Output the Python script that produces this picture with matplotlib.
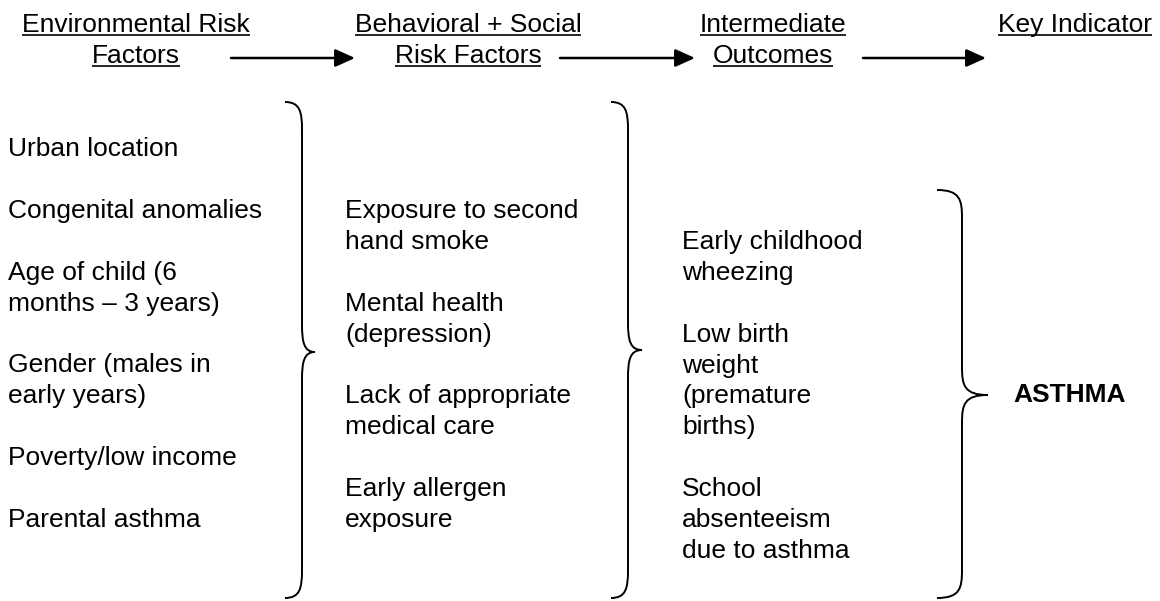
import matplotlib
matplotlib.use("Agg")
import matplotlib.pyplot as plt
from matplotlib.path import Path
from matplotlib.patches import PathPatch

plt.rcParams['font.family'] = ['Liberation Sans', 'DejaVu Sans']

# --- content ---------------------------------------------------------------
headers = [
    ["Environmental Risk", "Factors"],
    ["Behavioral + Social", "Risk Factors"],
    ["Intermediate", "Outcomes"],
    ["Key Indicator"],
]

env_factors = [
    "Urban location",
    "Congenital anomalies",
    "Age of child (6\nmonths \u2013 3 years)",
    "Gender (males in\nearly years)",
    "Poverty/low income",
    "Parental asthma",
]
behav_factors = [
    "Exposure to second\nhand smoke",
    "Mental health\n(depression)",
    "Lack of appropriate\nmedical care",
    "Early allergen\nexposure",
]
outcomes = [
    "Early childhood\nwheezing",
    "Low birth\nweight\n(premature\nbirths)",
    "School\nabsenteeism\ndue to asthma",
]
indicator = "ASTHMA"

# --- layout (pixels, y down) ----------------------------------------------
W, H = 1160, 601
FS = 19          # ~26px Arial
LINE = 30.9      # line pitch

header_x = [136, 468, 773, 1075]
header_y = [32, 63]
arrows = [(231, 355), (560, 695), (863, 986)]
arrow_y = 58

columns = [env_factors, behav_factors, outcomes]
col_x = [8, 345, 682]
col_y0 = [156, 218, 249]

# brace: tip x, spine x, middle tip x, top y, middle y, bottom y
braces = [
    (285, 302, 315, 102, 352, 598),
    (611, 628, 642, 102, 350, 598),
    (937, 962, 988, 190, 395, 598),
]


def brace_path(xt, xs, xm, yt, ym, yb, r=28):
    verts = [
        (xt, yt),
        (xs - 2, yt), (xs, yt + r * 0.35), (xs, yt + r),
        (xs, ym - r),
        (xs, ym - r * 0.35), (xs + 2, ym), (xm, ym),
        (xs + 2, ym), (xs, ym + r * 0.35), (xs, ym + r),
        (xs, yb - r),
        (xs, yb - r * 0.35), (xs - 2, yb), (xt, yb),
    ]
    codes = [Path.MOVETO,
             Path.CURVE4, Path.CURVE4, Path.CURVE4,
             Path.LINETO,
             Path.CURVE4, Path.CURVE4, Path.CURVE4,
             Path.CURVE4, Path.CURVE4, Path.CURVE4,
             Path.LINETO,
             Path.CURVE4, Path.CURVE4, Path.CURVE4]
    return Path(verts, codes)


fig = plt.figure(figsize=(W / 100, H / 100), dpi=100)
ax = fig.add_axes([0, 0, 1, 1])
ax.set_xlim(0, W)
ax.set_ylim(H, 0)
ax.axis('off')

# headers
header_texts = []
for lines, x in zip(headers, header_x):
    for line, y in zip(lines, header_y):
        t = ax.text(x, y, line, fontsize=FS, ha='center', va='baseline')
        header_texts.append((t, y))

# arrows between headers
for x0, x1 in arrows:
    ax.annotate('', xy=(x1, arrow_y), xytext=(x0, arrow_y),
                arrowprops=dict(arrowstyle='-|>,head_length=0.6,head_width=0.27',
                                mutation_scale=20, lw=1.8, color='black',
                                shrinkA=0, shrinkB=0))

# item columns, one blank line between items
for items, x, y0 in zip(columns, col_x, col_y0):
    k = 0
    for item in items:
        for line in item.split("\n"):
            ax.text(x, y0 + k * LINE, line, fontsize=FS, ha='left', va='baseline')
            k += 1
        k += 1

ax.text(1013, 402, indicator, fontsize=FS, fontweight='bold', ha='left', va='baseline')

for b in braces:
    ax.add_patch(PathPatch(brace_path(*b), fill=False, lw=1.4, edgecolor='black'))

# underline the headers
fig.canvas.draw()
renderer = fig.canvas.get_renderer()
inv = ax.transData.inverted()
for t, y in header_texts:
    bb = t.get_window_extent(renderer)
    x0 = inv.transform((bb.x0, bb.y0))[0]
    x1 = inv.transform((bb.x1, bb.y0))[0]
    ax.plot([x0, x1], [y + 3, y + 3], color='black', lw=1.2, solid_capstyle='butt')

fig.savefig('out.png', dpi=100)
